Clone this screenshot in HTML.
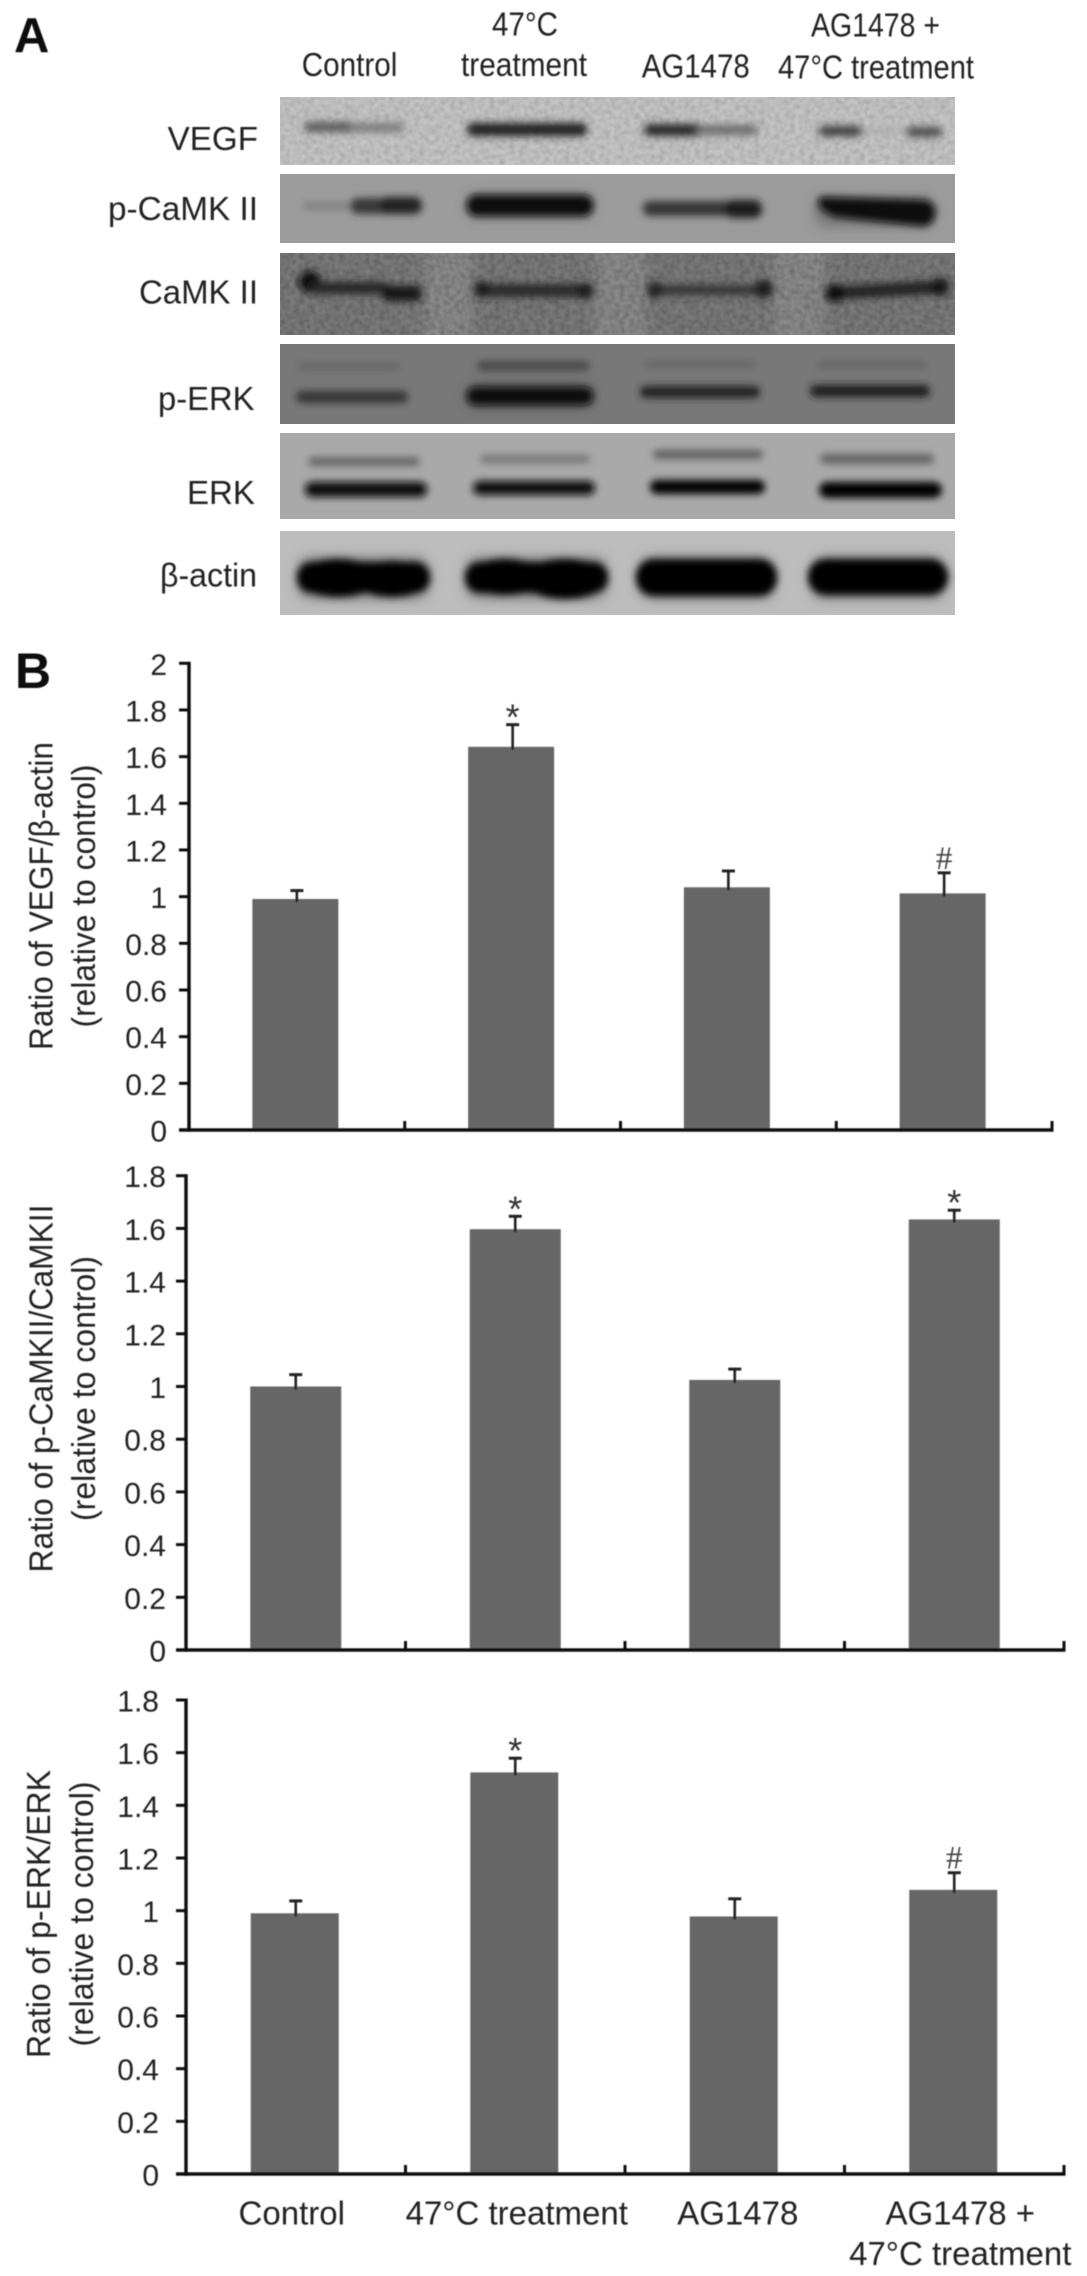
<!DOCTYPE html>
<html lang="en">
<head>
<meta charset="utf-8">
<title>VEGF, p-CaMK II and p-ERK western blots and ratios</title>
<style>
  html, body { margin: 0; padding: 0; background: #fff; }
  body { width: 1087px; height: 2276px; overflow: hidden; }
  svg { display: block; }
  text { font-family: "Liberation Sans", "DejaVu Sans", sans-serif; fill: #222; }
  .lab { font-size: 33px; }
</style>
</head>
<body>
<svg id="figure" xmlns="http://www.w3.org/2000/svg" width="1087" height="2276" viewBox="0 0 1087 2276">
  <defs>
    <filter id="soft" filterUnits="userSpaceOnUse" x="0" y="0" width="1087" height="2276"><feGaussianBlur stdDeviation="0.55"/></filter>
    <filter id="bandBlur" filterUnits="userSpaceOnUse" x="270" y="90" width="700" height="535"><feGaussianBlur stdDeviation="3.6"/></filter>
    <filter id="wideBlur" filterUnits="userSpaceOnUse" x="270" y="90" width="700" height="535"><feGaussianBlur stdDeviation="6"/></filter>
    <filter id="laneBlur" filterUnits="userSpaceOnUse" x="280" y="253" width="675" height="82"><feGaussianBlur stdDeviation="5 0"/></filter>
    <filter id="grainVegf" filterUnits="userSpaceOnUse" x="280" y="97" width="675" height="68">
      <feTurbulence type="fractalNoise" baseFrequency="0.2" numOctaves="2" seed="4"/>
      <feColorMatrix type="matrix" values="0 0 0 0 0  0 0 0 0 0  0 0 0 0 0  0 0 0 1.2 -0.4"/>
      <feGaussianBlur stdDeviation="0.9"/>
    </filter>
    <filter id="grainCamk" filterUnits="userSpaceOnUse" x="280" y="253" width="675" height="82">
      <feTurbulence type="fractalNoise" baseFrequency="0.2" numOctaves="2" seed="9"/>
      <feColorMatrix type="matrix" values="0 0 0 0 0  0 0 0 0 0  0 0 0 0 0  0 0 0 1.2 -0.4"/>
      <feGaussianBlur stdDeviation="0.9"/>
    </filter>
  </defs>

  <g id="panel-a">
    <g filter="url(#soft)">
      <text x="14" y="52" style="font-size:49px;font-weight:bold;fill:#111">A</text>
      <text class="lab" x="301.7" y="76" textLength="95.6" lengthAdjust="spacingAndGlyphs">Control</text>
      <text class="lab" x="492" y="35.7" textLength="66" lengthAdjust="spacingAndGlyphs">47°C</text>
      <text class="lab" x="461" y="76" textLength="126" lengthAdjust="spacingAndGlyphs">treatment</text>
      <text class="lab" x="641.7" y="77.7" textLength="108" lengthAdjust="spacingAndGlyphs">AG1478</text>
      <text class="lab" x="811" y="36.7" textLength="129" lengthAdjust="spacingAndGlyphs">AG1478 +</text>
      <text class="lab" x="778" y="78.7" textLength="196" lengthAdjust="spacingAndGlyphs">47°C treatment</text>
      <text class="lab" x="167.7" y="150" textLength="90.3" lengthAdjust="spacingAndGlyphs">VEGF</text>
      <text class="lab" x="108" y="220" textLength="150" lengthAdjust="spacingAndGlyphs">p-CaMK II</text>
      <text class="lab" x="139" y="303.3" textLength="119" lengthAdjust="spacingAndGlyphs">CaMK II</text>
      <text class="lab" x="158" y="410" textLength="96.5" lengthAdjust="spacingAndGlyphs">p-ERK</text>
      <text class="lab" x="187" y="504" textLength="68" lengthAdjust="spacingAndGlyphs">ERK</text>
      <text class="lab" x="160" y="586.7" textLength="97" lengthAdjust="spacingAndGlyphs">β-actin</text>
    </g>

    <g>
      <rect x="280" y="97" width="675" height="68" fill="#c4c4c4"/>
      <rect x="280" y="174" width="675" height="69" fill="#9c9c9c"/>
      <rect x="280" y="253" width="675" height="82" fill="#8a8a8a"/>
      <rect x="280" y="344" width="675" height="80" fill="#787878"/>
      <rect x="280" y="433" width="675" height="86" fill="#a9a9a9"/>
      <rect x="280" y="531" width="675" height="84" fill="#bdbdbd"/>
      <g fill="#7a7a7a" filter="url(#laneBlur)">
        <rect x="270" y="253" width="155" height="82"/>
        <rect x="473" y="253" width="122" height="82"/>
        <rect x="645" y="253" width="127" height="82"/>
        <rect x="825" y="253" width="140" height="82"/>
      </g>
      <rect x="280" y="97" width="675" height="68" filter="url(#grainVegf)" opacity="0.22"/>
      <rect x="280" y="253" width="675" height="82" filter="url(#grainCamk)" opacity="0.35"/>
    </g>

    <g filter="url(#wideBlur)" opacity="0.5">
      <rect x="467" y="194" width="126" height="24" rx="10" fill="#555"/>
      <rect x="814" y="197" width="121" height="30" rx="12" fill="#555"/>
      <rect x="467" y="384" width="126" height="24" rx="10" fill="#444"/>
      <rect x="297" y="556" width="133" height="44" rx="14" fill="#555"/>
      <rect x="465" y="556" width="143" height="44" rx="14" fill="#555"/>
      <rect x="638" y="556" width="137" height="44" rx="14" fill="#555"/>
      <rect x="810" y="556" width="136" height="44" rx="14" fill="#555"/>
    </g>

    <g filter="url(#bandBlur)">
      <g>
        <rect x="304" y="122" width="50" height="10" rx="5" fill="#5c5c5c"/>
        <rect x="350" y="123" width="54" height="9" rx="4" fill="#7a7a7a"/>
        <rect x="467" y="123" width="120" height="13" rx="6" fill="#222"/>
        <rect x="644" y="124" width="60" height="12" rx="6" fill="#2a2a2a"/>
        <rect x="696" y="125" width="62" height="10" rx="5" fill="#6e6e6e"/>
        <rect x="819" y="126" width="45" height="10" rx="5" fill="#3c3c3c"/>
        <rect x="860" y="129" width="48" height="4" rx="2" fill="#a8a8a8"/>
        <rect x="906" y="127" width="36" height="10" rx="5" fill="#4e4e4e"/>
      </g>
      <g>
        <rect x="302" y="202" width="60" height="8" rx="4" fill="#828282"/>
        <rect x="350" y="198" width="72" height="16" rx="8" fill="#383838"/>
        <rect x="380" y="197" width="42" height="17" rx="8" fill="#202020"/>
        <rect x="467" y="195" width="126" height="21" rx="9" fill="#0c0c0c"/>
        <rect x="643" y="201" width="118" height="15" rx="7" fill="#363636"/>
        <rect x="725" y="200" width="37" height="18" rx="8" fill="#1c1c1c"/>
        <path d="M820 197 L925 200 Q936 203 935 213 Q934 226 922 226 Q880 222 835 217 Q813 208 820 197Z" fill="#080808"/>
      </g>
      <g>
        <circle cx="310" cy="282" r="11" fill="#080808"/>
        <rect x="310" y="282" width="80" height="12" rx="6" fill="#282828"/>
        <rect x="382" y="286" width="40" height="15" rx="7" fill="#161616"/>
        <rect x="474" y="284" width="120" height="13" rx="6" fill="#2a2a2a"/>
        <circle cx="482" cy="289" r="8" fill="#1c1c1c"/>
        <circle cx="585" cy="291" r="8" fill="#1a1a1a"/>
        <rect x="648" y="285" width="124" height="10" rx="5" fill="#343434"/>
        <circle cx="655" cy="290" r="8" fill="#222"/>
        <circle cx="764" cy="289" r="9" fill="#1a1a1a"/>
        <path d="M826 287 L948 280 L948 293 L826 300Z" fill="#242424"/>
        <circle cx="835" cy="293" r="9" fill="#080808"/>
        <circle cx="940" cy="287" r="9" fill="#181818"/>
      </g>
      <g>
        <rect x="298" y="363" width="102" height="7" rx="3" fill="#666"/>
        <rect x="296" y="391" width="112" height="12" rx="6" fill="#363636"/>
        <rect x="477" y="361" width="113" height="10" rx="5" fill="#484848"/>
        <rect x="467" y="387" width="126" height="18" rx="8" fill="#0a0a0a"/>
        <rect x="645" y="361" width="110" height="7" rx="3" fill="#666"/>
        <rect x="640" y="386" width="120" height="12" rx="6" fill="#242424"/>
        <rect x="817" y="361" width="110" height="8" rx="4" fill="#666"/>
        <rect x="810" y="385" width="120" height="12" rx="6" fill="#1a1a1a"/>
      </g>
      <g>
        <rect x="308" y="457" width="112" height="9" rx="4" fill="#686868"/>
        <rect x="305" y="482" width="122" height="15" rx="7" fill="#080808"/>
        <rect x="480" y="455" width="110" height="8" rx="4" fill="#747474"/>
        <rect x="473" y="481" width="122" height="14" rx="7" fill="#080808"/>
        <rect x="653" y="450" width="110" height="9" rx="4" fill="#5e5e5e"/>
        <rect x="650" y="480" width="115" height="14" rx="7" fill="#050505"/>
        <rect x="820" y="454" width="114" height="10" rx="5" fill="#646464"/>
        <rect x="819" y="482" width="123" height="16" rx="8" fill="#050505"/>
      </g>
      <g>
        <rect x="297" y="562" width="133" height="31" rx="15" fill="#040404"/>
        <ellipse cx="338" cy="578" rx="40" ry="19" fill="#040404"/>
        <ellipse cx="392" cy="579" rx="37" ry="18" fill="#040404"/>
        <rect x="465" y="562" width="143" height="31" rx="15" fill="#040404"/>
        <ellipse cx="505" cy="577" rx="38" ry="18" fill="#040404"/>
        <ellipse cx="565" cy="579" rx="42" ry="20" fill="#040404"/>
        <rect x="636" y="559" width="141" height="37" rx="18" fill="#030303"/>
        <rect x="808" y="559" width="140" height="36" rx="18" fill="#030303"/>
      </g>
    </g>
  </g>

  <g id="charts" filter="url(#soft)">
    <text x="15" y="688" style="font-size:50px;font-weight:bold;fill:#111">B</text>
  </g>
</svg>

<script>
// Shared categories
const categoryLines = [['Control'], ['47°C treatment'], ['AG1478'], ['AG1478 +', '47°C treatment']];

// Chart 1: VEGF / beta-actin
const vegfValues = [0.99, 1.642, 1.04, 1.014];
const vegfErrors = [0.036, 0.095, 0.07, 0.088];
const vegfMarks = ['', '*', '', '#'];
const vegfTicks = ['0', '0.2', '0.4', '0.6', '0.8', '1', '1.2', '1.4', '1.6', '1.8', '2'];

// Chart 2: p-CaMKII / CaMKII
const camkValues = [1.0, 1.597, 1.025, 1.634];
const camkErrors = [0.045, 0.049, 0.041, 0.035];
const camkMarks = ['', '*', '', '*'];
const camkTicks = ['0', '0.2', '0.4', '0.6', '0.8', '1', '1.2', '1.4', '1.6', '1.8'];

// Chart 3: p-ERK / ERK
const erkValues = [0.99, 1.525, 0.978, 1.079];
const erkErrors = [0.047, 0.054, 0.067, 0.065];
const erkMarks = ['', '*', '', '#'];
const erkTicks = ['0', '0.2', '0.4', '0.6', '0.8', '1', '1.2', '1.4', '1.6', '1.8'];

const NS = 'http://www.w3.org/2000/svg';
const chartsRoot = document.getElementById('charts');

function make(tag, attrs, parent) {
  const el = document.createElementNS(NS, tag);
  for (const k in attrs) el.setAttribute(k, attrs[k]);
  parent.appendChild(el);
  return el;
}

function drawChart(cfg) {
  const group = make('g', {}, chartsRoot);
  
  

  const yMax = parseFloat(cfg.ticks[cfg.ticks.length - 1]);
  const yScale = v => cfg.yZero - (v / yMax) * (cfg.yZero - cfg.yTop);
  const band = (cfg.xEnd - cfg.xAxis) / cfg.values.length;
  const xCenter = i => cfg.xAxis + band * (i + 0.5);

  // Bars first, so axes sit on top
  cfg.values.forEach((v, i) => {
    const bar = make('rect', {
      x: xCenter(i) + cfg.barShift - cfg.barWidth / 2,
      y: yScale(v),
      width: cfg.barWidth,
      height: cfg.yZero - yScale(v),
      fill: '#666666'
    }, group);
    
    

    const top = yScale(v + cfg.errors[i]);
    const stem = make('line', {
      x1: xCenter(i), x2: xCenter(i),
      y1: yScale(v) + 3, y2: top,
      stroke: '#222', 'stroke-width': 2.6
    }, group);
    
    

    const cap = make('line', {
      x1: xCenter(i) - 6.5, x2: xCenter(i) + 6.5,
      y1: top, y2: top,
      stroke: '#222', 'stroke-width': 3
    }, group);
    
    

    if (cfg.marks[i]) {
      const isStar = cfg.marks[i] === '*';
      const mark = make('text', {
        x: xCenter(i),
        y: isStar ? top + 5 : top - 4,
        'text-anchor': 'middle',
        style: isStar
          ? 'font-size:36px;fill:#333;font-family:"Liberation Sans",sans-serif'
          : 'font-size:33px;fill:#444;font-family:"Liberation Serif",serif'
      }, group);
      mark.textContent = cfg.marks[i];
      
      
    }
  });

  // Y axis
  const yAxis = make('line', {
    x1: cfg.xAxis, x2: cfg.xAxis,
    y1: cfg.yTop - 1.5, y2: cfg.yZero + 1.7,
    stroke: '#111', 'stroke-width': 3.4
  }, group);
  
  

  // X axis
  const xAxis = make('line', {
    x1: cfg.xAxis - 10, x2: cfg.xEnd + 1.5,
    y1: cfg.yZero, y2: cfg.yZero,
    stroke: '#111', 'stroke-width': 3.4
  }, group);
  
  

  // Y ticks and labels
  cfg.ticks.forEach(label => {
    const y = yScale(parseFloat(label));
    const tick = make('line', {
      x1: cfg.xAxis - 10, x2: cfg.xAxis,
      y1: y, y2: y,
      stroke: '#111', 'stroke-width': 3
    }, group);
    
    

    const text = make('text', {
      x: cfg.tickLabelRight,
      y: y + 11.5,
      'text-anchor': 'end',
      style: 'font-size:30px'
    }, group);
    text.textContent = label;
    
    
  });

  // X ticks between categories
  cfg.values.forEach((v, i) => {
    const x = cfg.xAxis + band * (i + 1);
    const tick = make('line', {
      x1: x, x2: x,
      y1: cfg.yZero - 9, y2: cfg.yZero,
      stroke: '#111', 'stroke-width': 3
    }, group);
    
    
  });

  // Rotated axis titles
  cfg.titles.forEach((t, i) => {
    const title = make('text', {
      transform: 'translate(' + t.baseX + ',' + cfg.titleCenter + ') rotate(-90)',
      'text-anchor': 'middle',
      textLength: t.length,
      lengthAdjust: 'spacingAndGlyphs',
      style: 'font-size:33px'
    }, group);
    title.textContent = t.text;
    
    
  });

  // Category labels (bottom chart only)
  if (cfg.showCategories) {
    const nudge = [-4, 1.5, 3, 6];
    const lineY = [2224.5, 2265];
    categoryLines.forEach((lines, i) => {
      lines.forEach((line, j) => {
        const label = make('text', {
          x: xCenter(i) + nudge[i],
          y: lineY[j],
          'text-anchor': 'middle',
          style: 'font-size:33px'
        }, group);
        label.textContent = line;
        
        
      });
    });
  }
}

drawChart({
  key: 'vegf', values: vegfValues, errors: vegfErrors, marks: vegfMarks, ticks: vegfTicks,
  xAxis: 189, xEnd: 1052, yTop: 663.3, yZero: 1130, barWidth: 86, barShift: -1.5,
  tickLabelRight: 167, titleCenter: 896,
  titles: [
    { text: 'Ratio of VEGF/β-actin', baseX: 52.7, length: 308 },
    { text: '(relative to control)', baseX: 95, length: 263 }
  ]
});

drawChart({
  key: 'p-camk', values: camkValues, errors: camkErrors, marks: camkMarks, ticks: camkTicks,
  xAxis: 186, xEnd: 1064, yTop: 1175.7, yZero: 1650, barWidth: 91, barShift: 0,
  tickLabelRight: 166, titleCenter: 1388.5,
  titles: [
    { text: 'Ratio of p-CaMKII/CaMKII', baseX: 52.7, length: 368 },
    { text: '(relative to control)', baseX: 95, length: 265 }
  ]
});

drawChart({
  key: 'p-erk', values: erkValues, errors: erkErrors, marks: erkMarks, ticks: erkTicks,
  xAxis: 186, xEnd: 1064, yTop: 1700, yZero: 2174, barWidth: 88, barShift: -1,
  tickLabelRight: 159, titleCenter: 1914, showCategories: true,
  titles: [
    { text: 'Ratio of p-ERK/ERK', baseX: 50, length: 288 },
    { text: '(relative to control)', baseX: 93, length: 265 }
  ]
});
</script>
</body>
</html>
